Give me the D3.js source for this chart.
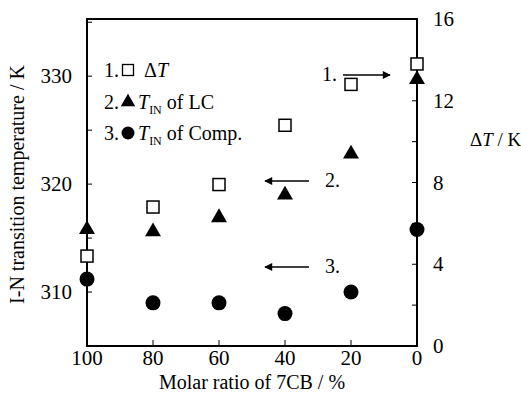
<!DOCTYPE html>
<html>
<head>
<meta charset="utf-8">
<script src="https://cdn.jsdelivr.net/npm/d3@7"></script>
<style>
  body { margin: 0; background: #fff; }
</style>
</head>
<body>
<div id="chart"></div>
<script>
// molar ratio of 7CB (%)
const ratios = [100, 80, 60, 40, 20, 0];
// series 1: delta T (right axis, K)
const deltaT = [4.4, 6.8, 7.9, 10.8, 12.8, 13.8];
// series 2: T_IN of LC (left axis, K)
const tinLC = [315.8, 315.6, 316.9, 319.0, 322.8, 329.7];
// series 3: T_IN of composite (left axis, K)
const tinComp = [311.2, 309.0, 309.0, 308.0, 310.0, 315.8];

const xTicks = [100, 80, 60, 40, 20, 0];
const leftTicks = [310, 320, 330];
const leftMinor = [305, 315, 325, 335];
const rightTicks = [0, 4, 8, 12, 16];
const rightMinor = [2, 6, 10, 14];

const width = 521, height = 399;
const margin = {top: 19, right: 104, bottom: 53, left: 87};
const serif = "'Liberation Serif', 'Times New Roman', 'DejaVu Serif', serif";

const svg = d3.select("#chart").append("svg")
    .attr("width", width)
    .attr("height", height)
    .attr("font-family", serif);

const x = d3.scaleLinear().domain([100, 0]).range([margin.left, width - margin.right]);
const yL = d3.scaleLinear().domain([305, 335.3]).range([height - margin.bottom, margin.top]);
const yR = d3.scaleLinear().domain([0, 16]).range([height - margin.bottom, margin.top]);

const x0 = margin.left, x1 = width - margin.right;
const y0 = height - margin.bottom, y1 = margin.top;

// frame
svg.append("rect")
    .attr("x", x0).attr("y", y1)
    .attr("width", x1 - x0).attr("height", y0 - y1)
    .attr("fill", "none").attr("stroke", "#000").attr("stroke-width", 2);

// bottom ticks (inward)
svg.selectAll(".xt").data(xTicks).enter().append("line")
    .attr("x1", d => x(d)).attr("x2", d => x(d))
    .attr("y1", y0).attr("y2", y0 - 6)
    .attr("stroke", "#000").attr("stroke-width", 1);
svg.selectAll(".xl").data(xTicks).enter().append("text")
    .attr("x", d => x(d)).attr("y", y0 + 19)
    .attr("text-anchor", "middle")
    .style("font-size", "21px")
    .text(d => d);

// left ticks
svg.selectAll(".lt").data(leftTicks.concat(leftMinor)).enter().append("line")
    .attr("x1", x0).attr("x2", x0 + 5)
    .attr("y1", d => yL(d)).attr("y2", d => yL(d))
    .attr("stroke", "#000").attr("stroke-width", 1);
svg.selectAll(".ll").data(leftTicks).enter().append("text")
    .attr("x", x0 - 15).attr("y", d => yL(d) + 7)
    .attr("text-anchor", "end")
    .style("font-size", "21px")
    .text(d => d);

// right ticks
svg.selectAll(".rt").data(rightTicks.concat(rightMinor)).enter().append("line")
    .attr("x1", x1).attr("x2", x1 - 5)
    .attr("y1", d => yR(d)).attr("y2", d => yR(d))
    .attr("stroke", "#000").attr("stroke-width", 1);
svg.selectAll(".rl").data(rightTicks).enter().append("text")
    .attr("x", x1 + 16).attr("y", d => yR(d) + 7)
    .attr("text-anchor", "start")
    .style("font-size", "21px")
    .text(d => d);

// axis titles
svg.append("text")
    .attr("transform", `translate(24,${(y0 + y1) / 2 + 2}) rotate(-90)`)
    .attr("text-anchor", "middle")
    .style("font-size", "20px")
    .text("I-N transition temperature / K");

svg.append("text")
    .attr("x", (x0 + x1) / 2).attr("y", 389)
    .attr("text-anchor", "middle")
    .style("font-size", "20px")
    .text("Molar ratio of 7CB / %");

const rt = svg.append("text")
    .attr("x", 470).attr("y", 146)
    .style("font-size", "19px");
rt.append("tspan").text("\u0394");
rt.append("tspan").style("font-style", "italic").text("T");
rt.append("tspan").text(" / K");

// markers
const sq = 12, tri = d3.symbol().type(d3.symbolTriangle).size(110);

svg.selectAll(".sq").data(ratios).enter().append("rect")
    .attr("x", (d, i) => x(d) - sq / 2)
    .attr("y", (d, i) => yR(deltaT[i]) - sq / 2)
    .attr("width", sq).attr("height", sq)
    .attr("fill", "#fff").attr("stroke", "#000").attr("stroke-width", 1.5);

svg.selectAll(".tri").data(ratios).enter().append("path")
    .attr("d", tri)
    .attr("transform", (d, i) => `translate(${x(d)},${yL(tinLC[i])})`)
    .attr("fill", "#000");

svg.selectAll(".cir").data(ratios).enter().append("circle")
    .attr("cx", d => x(d))
    .attr("cy", (d, i) => yL(tinComp[i]))
    .attr("r", 7.5)
    .attr("fill", "#000");

// legend
const legendRows = [
  {num: "1.", sym: "square", text: ["\u0394", "T", "", ""]},
  {num: "2.", sym: "triangle", text: ["", "T", "IN", " of LC"]},
  {num: "3.", sym: "circle", text: ["", "T", "IN", " of Comp."]}
];
const legendY = [70, 102, 133];
const lx = 104;
legendRows.forEach((r, i) => {
  const yy = legendY[i];
  svg.append("text").attr("x", lx).attr("y", yy + 7).style("font-size", "20px").text(r.num);
  const sx = lx + 24;
  if (r.sym === "square") {
    svg.append("rect").attr("x", sx - 5.5).attr("y", yy - 5.5).attr("width", 11).attr("height", 11)
      .attr("fill", "#fff").attr("stroke", "#000").attr("stroke-width", 1.3);
  } else if (r.sym === "triangle") {
    svg.append("path").attr("d", d3.symbol().type(d3.symbolTriangle).size(90))
      .attr("transform", `translate(${sx},${yy})`).attr("fill", "#000");
  } else {
    svg.append("circle").attr("cx", sx).attr("cy", yy).attr("r", 6.5).attr("fill", "#000");
  }
  const t = svg.append("text").attr("x", r.sym === "square" ? sx + 16 : sx + 10).attr("y", yy + 7)
      .style("font-size", "20px");
  if (r.text[0]) t.append("tspan").text(r.text[0]);
  t.append("tspan").style("font-style", "italic").text(r.text[1]);
  if (r.text[2]) {
    t.append("tspan").attr("dy", 5).style("font-size", "12px").text(r.text[2]);
    t.append("tspan").attr("dy", -5).text(r.text[3]);
  }
});

// annotation arrows
svg.append("defs").append("marker")
    .attr("id", "ah").attr("viewBox", "0 0 10 10")
    .attr("refX", 9).attr("refY", 5)
    .attr("markerWidth", 10).attr("markerHeight", 8)
    .attr("markerUnits", "userSpaceOnUse")
    .attr("orient", "auto")
  .append("path").attr("d", "M0,0 L10,5 L0,10 z").attr("fill", "#000");

const notes = [
  {label: "1.", lx: 322, ax1: 343, ax2: 390, y: 75},
  {label: "2.", lx: 325, ax1: 309, ax2: 265, y: 181},
  {label: "3.", lx: 325, ax1: 309, ax2: 265, y: 267}
];
notes.forEach(n => {
  svg.append("line")
    .attr("x1", n.ax1).attr("x2", n.ax2).attr("y1", n.y).attr("y2", n.y)
    .attr("stroke", "#000").attr("stroke-width", 1.3)
    .attr("marker-end", "url(#ah)");
  svg.append("text").attr("x", n.lx).attr("y", n.y + 6)
    .style("font-size", "20px").text(n.label);
});
</script>
</body>
</html>
